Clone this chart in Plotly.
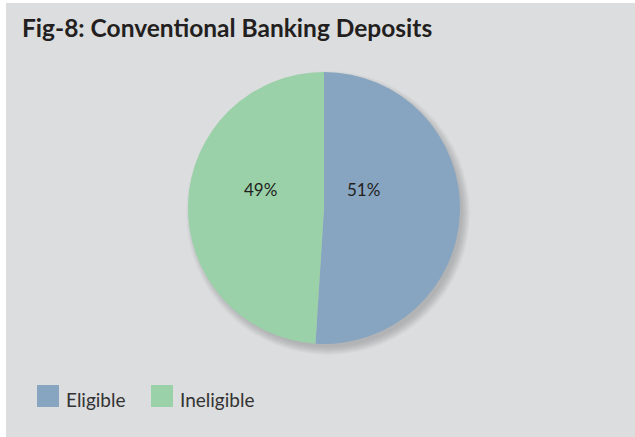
import plotly.graph_objects as go

# Deposit split
labels = ["Eligible", "Ineligible"]
values = [51, 49]
colors = ["#87a5c0", "#9ad1a9"]

W, H = 635, 437
BG = "#dcdddf"
TXT = "#231f20"

# pie geometry in pixels
cx, cy, r = 324, 208, 136

fig = go.Figure(
    go.Pie(
        labels=labels,
        values=values,
        marker=dict(colors=colors, line=dict(width=0)),
        sort=False,
        direction="clockwise",
        rotation=0,
        textinfo="none",
        hoverinfo="label+percent",
        showlegend=False,
        domain=dict(
            x=[(cx - r) / W, (cx + r) / W],
            y=[(H - cy - r) / H, (H - cy + r) / H],
        ),
    )
)

shapes = [
    # panel background with thin white border on the top/left
    dict(type="rect", xref="paper", yref="paper", x0=6 / W, x1=1, y0=0, y1=1 - 3 / H,
         fillcolor=BG, line=dict(width=0), layer="below"),
]
# soft drop shadow beneath the pie, offset to the lower right
for i in range(12):
    rr = r + 6 - i * 0.75
    shapes.append(dict(
        type="circle", xref="paper", yref="paper",
        x0=(cx + 4 - rr) / W, x1=(cx + 4 + rr) / W,
        y0=(H - cy - 5 - rr) / H, y1=(H - cy - 5 + rr) / H,
        fillcolor="rgba(110,110,115,0.035)", line=dict(width=0), layer="below",
    ))

annotations = []
# percentage labels
label_pos = {"Eligible": (363, 190), "Ineligible": (260, 190)}
for lab, v in zip(labels, values):
    px, py = label_pos[lab]
    annotations.append(dict(
        x=px / W, y=1 - py / H, xref="paper", yref="paper",
        text=f"{v}%", showarrow=False, xanchor="center", yanchor="middle",
        font=dict(family="Lato", size=17, color=TXT),
    ))

# legend drawn as swatches + text
leg_x = [37, 151]
leg_y = 396
for lab, col, lx in zip(labels, colors, leg_x):
    shapes.append(dict(
        type="rect", xref="paper", yref="paper",
        x0=lx / W, x1=(lx + 22) / W,
        y0=1 - (leg_y + 11) / H, y1=1 - (leg_y - 11) / H,
        fillcolor=col, line=dict(width=0),
    ))
    annotations.append(dict(
        x=(lx + 27) / W, y=1 - (leg_y + 3) / H, xref="paper", yref="paper",
        text=lab, showarrow=False, xanchor="left", yanchor="middle",
        font=dict(family="Lato", size=19, color="#333333"),
    ))

fig.update_layout(
    width=W,
    height=H,
    margin=dict(l=0, r=0, t=0, b=0),
    paper_bgcolor="white",
    plot_bgcolor=BG,
    title=dict(
        text="<b>Fig-8: Conventional Banking Deposits</b>",
        x=22 / W, xanchor="left", y=1 - 28 / H, yanchor="middle",
        font=dict(family="Lato", size=24.5, color=TXT),
    ),
    shapes=shapes,
    annotations=annotations,
)

fig.write_html("out.html")
